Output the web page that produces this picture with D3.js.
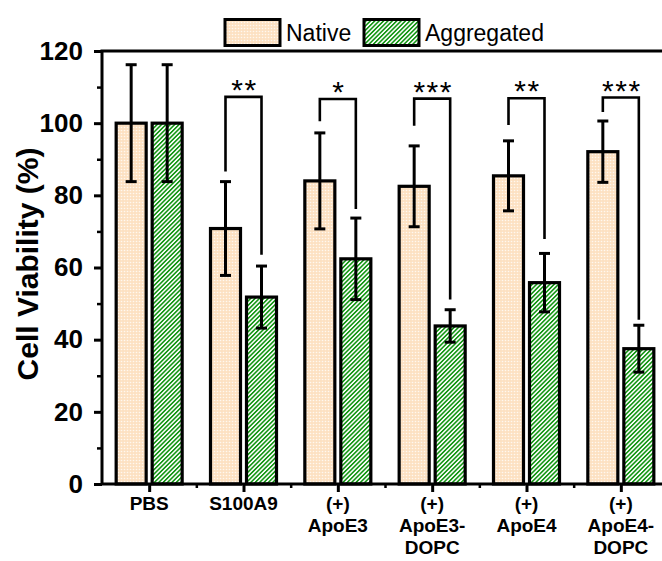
<!DOCTYPE html>
<html>
<head>
<meta charset="utf-8">
<script src="https://cdn.jsdelivr.net/npm/d3@7"></script>
<style>
  body { margin: 0; background: #fff; }
  text { font-family: "Liberation Sans", Arial, sans-serif; }
</style>
</head>
<body>
<svg id="chart" width="662" height="561"></svg>
<script>
// values
const categories = [['PBS'], ['S100A9'], ['(+)', 'ApoE3'], ['(+)', 'ApoE3-', 'DOPC'], ['(+)', 'ApoE4'], ['(+)', 'ApoE4-', 'DOPC']];
const native = [100, 70.8, 84, 82.5, 85.4, 92.1];
const nativeErr = [16.2, 13, 13.3, 11.2, 9.7, 8.5];
const aggregated = [100, 51.8, 62.4, 43.8, 55.8, 37.5];
const aggregatedErr = [16.2, 8.6, 11.3, 4.5, 8.1, 6.5];
const stars = ['', '**', '*', '***', '**', '***'];
const bracketTop = [null, 107.3, 106.7, 106.8, 106.9, 107.1];
const legNativeEnd = [null, 86.6, 100.5, 99.3, 99.5, 103.1];
const legAggEnd = [null, 63.5, 76.2, 51.1, 67.9, 45.5];
const yTicks = [0, 20, 40, 60, 80, 100, 120];
const yMinor = [10, 30, 50, 70, 90, 110];

const svg = d3.select('#chart');
const plotL = 102, plotT = 51, plotB = 484, plotR = 668;

const y = d3.scaleLinear().domain([0, 120]).range([plotB, plotT]);
const x = d3.scaleLinear().domain([-0.5, 5.5]).range([plotL, plotR]);
const off = 18, barW = 30;

// patterns
const defs = svg.append('defs');
const dots = defs.append('pattern')
  .attr('id', 'dots')
  .attr('patternUnits', 'userSpaceOnUse')
  .attr('width', 3).attr('height', 3);
dots.append('rect').attr('width', 3).attr('height', 3).attr('fill', '#fde1c2');
dots.append('circle').attr('cx', 1.5).attr('cy', 1.5).attr('r', 0.8).attr('fill', '#fff8f0');

const hatch = defs.append('pattern')
  .attr('id', 'hatch')
  .attr('patternUnits', 'userSpaceOnUse')
  .attr('width', 3.1).attr('height', 3.1)
  .attr('patternTransform', 'rotate(45)');
hatch.append('rect').attr('width', 3.1).attr('height', 3.1).attr('fill', '#fff');
hatch.append('line')
  .attr('x1', 0.8).attr('y1', 0).attr('x2', 0.8).attr('y2', 3.1)
  .attr('stroke', '#159615').attr('stroke-width', 1.6);

// bars
function bars(vals, dx, fill) {
  svg.append('g').selectAll('rect')
    .data(vals)
    .join('rect')
    .attr('x', (d, i) => x(i) + dx - barW / 2)
    .attr('y', d => y(d))
    .attr('width', barW)
    .attr('height', d => plotB - y(d))
    .attr('fill', fill)
    .attr('stroke', '#000')
    .attr('stroke-width', 3.2);
}
bars(native, -off, 'url(#dots)');
bars(aggregated, off, 'url(#hatch)');

// error bars
function errors(vals, errs, dx) {
  const g = svg.append('g').attr('stroke', '#000').attr('stroke-width', 3);
  vals.forEach((v, i) => {
    const cx = x(i) + dx;
    g.append('line').attr('x1', cx).attr('x2', cx)
      .attr('y1', y(v - errs[i])).attr('y2', y(v + errs[i]));
    [v - errs[i], v + errs[i]].forEach(e => {
      g.append('line').attr('x1', cx - 5.5).attr('x2', cx + 5.5)
        .attr('y1', y(e)).attr('y2', y(e));
    });
  });
}
errors(native, nativeErr, -off);
errors(aggregated, aggregatedErr, off);

// significance brackets
stars.forEach((s, i) => {
  if (!s) return;
  const x1 = x(i) - off, x2 = x(i) + off;
  svg.append('path')
    .attr('d', `M${x1},${y(legNativeEnd[i])}V${y(bracketTop[i])}H${x2}V${y(legAggEnd[i])}`)
    .attr('fill', 'none')
    .attr('stroke', '#000')
    .attr('stroke-width', 2.6);
  svg.append('text')
    .attr('x', x(i) + 1)
    .attr('y', y(bracketTop[i]) + 3)
    .attr('text-anchor', 'middle')
    .attr('font-size', 30)
    .attr('letter-spacing', 1.5)
    .text(s);
});

// frame
svg.append('path')
  .attr('d', `M${plotR},${plotT}H${plotL}V${plotB}H${plotR}`)
  .attr('fill', 'none')
  .attr('stroke', '#000')
  .attr('stroke-width', 3);

// y axis
const yAxis = svg.append('g')
  .attr('transform', `translate(${plotL},0)`)
  .call(d3.axisLeft(y).tickValues(yTicks).tickSize(8).tickPadding(11));
yAxis.select('.domain').remove();
yAxis.selectAll('line').attr('stroke-width', 3);
yAxis.selectAll('text')
  .attr('font-size', 26).attr('font-weight', 'bold')
  .attr('font-family', '"Liberation Sans", Arial, sans-serif');

svg.append('g')
  .attr('transform', `translate(${plotL},0)`)
  .call(d3.axisLeft(y).tickValues(yMinor).tickSize(5).tickFormat(''))
  .call(g => g.select('.domain').remove())
  .selectAll('line').attr('stroke-width', 2.5);

// x axis
const xAxis = svg.append('g')
  .attr('transform', `translate(0,${plotB})`)
  .call(d3.axisBottom(x).tickValues(d3.range(6)).tickSize(8).tickFormat(''));
xAxis.select('.domain').remove();
xAxis.selectAll('line').attr('stroke-width', 3);

svg.append('g')
  .attr('transform', `translate(0,${plotB})`)
  .call(d3.axisBottom(x).tickValues(d3.range(6).map(d => d + 0.5)).tickSize(4).tickFormat(''))
  .call(g => g.select('.domain').remove())
  .selectAll('line').attr('stroke-width', 2.5);

svg.append('g').selectAll('text')
  .data(categories)
  .join('text')
  .attr('x', (d, i) => x(i))
  .attr('y', 510)
  .attr('text-anchor', 'middle')
  .attr('font-size', 19)
  .attr('font-weight', 'bold')
  .each(function (d) {
    const t = d3.select(this);
    d.forEach((line, j) => {
      t.append('tspan').attr('x', t.attr('x')).attr('dy', j ? 22 : 0).text(line);
    });
  });

// y title
svg.append('text')
  .attr('transform', 'translate(38,264) rotate(-90)')
  .attr('text-anchor', 'middle')
  .attr('font-size', 30)
  .attr('font-weight', 'bold')
  .text('Cell Viability (%)');

// legend
const legend = [
  { name: 'Native', fill: 'url(#dots)', x: 225, tx: 286 },
  { name: 'Aggregated', fill: 'url(#hatch)', x: 364, tx: 425 }
];
legend.forEach(l => {
  svg.append('rect')
    .attr('x', l.x).attr('y', 19.5)
    .attr('width', 55).attr('height', 26)
    .attr('fill', l.fill)
    .attr('stroke', '#000').attr('stroke-width', 3);
  svg.append('text')
    .attr('x', l.tx).attr('y', 41)
    .attr('font-size', 23)
    .text(l.name);
});
</script>
</body>
</html>
